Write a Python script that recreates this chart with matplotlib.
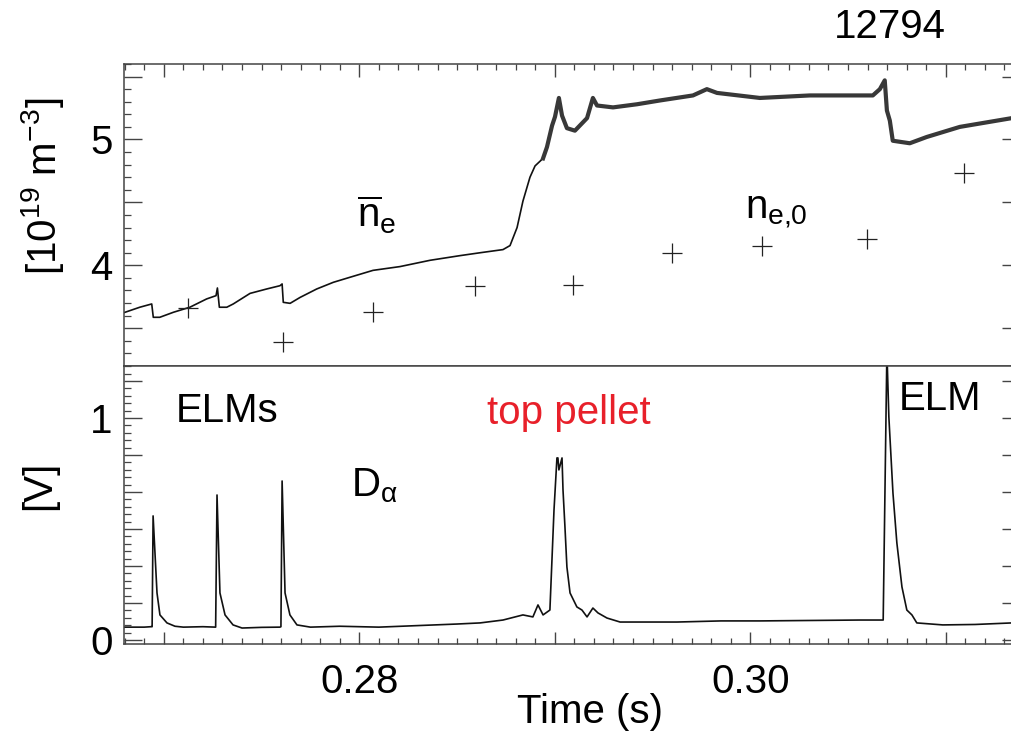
import matplotlib
matplotlib.use("Agg")
import numpy as np
import matplotlib.pyplot as plt
from matplotlib.ticker import MultipleLocator, FuncFormatter, NullLocator

# ---- data (shot 12794) ----
# line averaged density  [1e19 m^-3]
ne_t = [0.26796, 0.26877, 0.26938, 0.26946, 0.26979, 0.27049, 0.27133, 0.27219,
        0.27267, 0.27274, 0.27284, 0.27322, 0.27355, 0.27441, 0.27526, 0.27594,
        0.27605, 0.27611, 0.27646, 0.27697, 0.27782, 0.27867, 0.27952, 0.28070,
        0.28208, 0.28362, 0.28515, 0.28618, 0.28735, 0.28771, 0.28807, 0.28837,
        0.28873, 0.28899, 0.28940, 0.28960, 0.28986, 0.29001, 0.29021, 0.29037,
        0.29062, 0.29103, 0.29165, 0.29195, 0.29216, 0.29298, 0.29421, 0.29538,
        0.29707, 0.29778, 0.29830, 0.30049, 0.30305, 0.30627, 0.30663, 0.30688,
        0.30699, 0.30714, 0.30729, 0.30816, 0.30903, 0.31072, 0.31339]
ne_bar = [3.624, 3.667, 3.693, 3.587, 3.587, 3.627, 3.667, 3.733,
          3.759, 3.820, 3.667, 3.667, 3.693, 3.777, 3.812, 3.838,
          3.852, 3.706, 3.698, 3.745, 3.812, 3.865, 3.905, 3.960,
          3.990, 4.040, 4.077, 4.100, 4.125, 4.157, 4.300, 4.510,
          4.700, 4.790, 4.850, 4.940, 5.110, 5.180, 5.330, 5.190,
          5.090, 5.070, 5.170, 5.330, 5.270, 5.255, 5.280, 5.310,
          5.350, 5.400, 5.370, 5.330, 5.350, 5.350, 5.400, 5.470,
          5.230, 5.150, 4.990, 4.970, 5.020, 5.100, 5.170]

# central density from Thomson scattering
ne0_t = [0.27124, 0.27610, 0.28070, 0.28592, 0.29093, 0.29599, 0.30060, 0.30597, 0.31093]
ne0 = [3.661, 3.393, 3.632, 3.838, 3.846, 4.099, 4.151, 4.210, 4.735]

# D-alpha signal [V]
da_t = [0.26796, 0.26900, 0.26935, 0.26940, 0.26945, 0.26965, 0.26980, 0.27016,
        0.27057, 0.27100, 0.27200, 0.27265, 0.27272, 0.27287, 0.27313, 0.27354,
        0.27400, 0.27500, 0.27594, 0.27599, 0.27605, 0.27620, 0.27645, 0.27681,
        0.27750, 0.27900, 0.28100, 0.28300, 0.28500, 0.28618, 0.28735, 0.28837,
        0.28888, 0.28914, 0.28940, 0.28975, 0.28996, 0.29011, 0.29016, 0.29021,
        0.29037, 0.29042, 0.29052, 0.29062, 0.29078, 0.29113, 0.29139, 0.29165,
        0.29195, 0.29221, 0.29267, 0.29334, 0.29472, 0.29625, 0.29850, 0.30050,
        0.30560, 0.30680, 0.30699, 0.30709, 0.30730, 0.30750, 0.30776, 0.30801,
        0.30827, 0.30852, 0.30985, 0.31150, 0.31339]
d_alpha = [0.058, 0.058, 0.060, 0.060, 0.559, 0.212, 0.113, 0.077,
           0.062, 0.058, 0.060, 0.058, 0.653, 0.212, 0.113, 0.068,
           0.054, 0.057, 0.058, 0.060, 0.716, 0.212, 0.113, 0.068,
           0.058, 0.062, 0.058, 0.065, 0.072, 0.077, 0.090, 0.113,
           0.104, 0.158, 0.113, 0.135, 0.586, 0.820, 0.820, 0.766,
           0.820, 0.676, 0.509, 0.329, 0.212, 0.149, 0.135, 0.104,
           0.144, 0.122, 0.099, 0.081, 0.081, 0.081, 0.086, 0.086,
           0.090, 0.090, 1.300, 1.005, 0.662, 0.437, 0.239, 0.135,
           0.113, 0.077, 0.068, 0.070, 0.077]

t_pellet = 0.2894   # after the pellet the density trace carries a fast ripple

plt.rcParams['font.family'] = ['Liberation Sans', 'DejaVu Sans']
plt.rcParams['mathtext.fontset'] = 'custom'
plt.rcParams['mathtext.rm'] = 'Liberation Sans'
plt.rcParams['mathtext.it'] = 'Liberation Sans'
plt.rcParams['mathtext.sf'] = 'Liberation Sans'
plt.rcParams['mathtext.bf'] = 'Liberation Sans:bold'

FS = 29
frame = '#444444'

fig = plt.figure(figsize=(10.12, 7.32), dpi=100)
ax1 = fig.add_axes([0.1225, 0.5, 0.8775, 0.4126])
ax2 = fig.add_axes([0.1225, 0.1202, 0.8775, 0.3798], sharex=ax1)

# top panel: densities
t = np.array(ne_t)
v = np.array(ne_bar)
pre = t <= t_pellet
post = t >= t[pre][-1]
ax1.plot(t[pre], v[pre], color='#111111', lw=1.2)
# rippled part drawn as a broad band
ax1.plot(t[post], v[post], color='#383838', lw=3.0, solid_joinstyle='round')
ax1.plot(ne0_t, ne0, ls='none', marker='+', ms=14, mew=0.9, color='#222222')
ax1.set_ylim(3.2, 5.6)
ax1.text(0.285, 0.50, r'$\overline{n}_e$', transform=ax1.transAxes,
         fontsize=FS, ha='center', va='center')
ax1.text(0.735, 0.51, r'$n_{e{,}0}$', transform=ax1.transAxes,
         fontsize=FS, ha='center', va='center')

# bottom panel: D-alpha
ax2.plot(da_t, d_alpha, color='#111111', lw=1.2)
ax2.set_ylim(-0.018, 1.234)
ax2.text(0.116, 0.838, 'ELMs', transform=ax2.transAxes, fontsize=FS,
         ha='center', va='center')
ax2.text(0.501, 0.831, 'top pellet', transform=ax2.transAxes, fontsize=FS,
         ha='center', va='center', color='#e8202a')
ax2.text(0.2815, 0.568, r'$D_\alpha$', transform=ax2.transAxes, fontsize=FS,
         ha='center', va='center')
ax2.text(0.919, 0.881, 'ELM', transform=ax2.transAxes, fontsize=FS,
         ha='center', va='center')

ax2.set_xlim(0.26796, 0.31339)
ax2.xaxis.set_major_locator(MultipleLocator(0.01))
ax2.xaxis.set_minor_locator(MultipleLocator(0.001))
ax2.xaxis.set_major_formatter(FuncFormatter(
    lambda x, p: f'{x:.2f}' if round(x * 100) % 2 == 0 else ''))

ax1.yaxis.set_major_locator(MultipleLocator(0.5))
ax1.yaxis.set_minor_locator(MultipleLocator(0.1))
ax2.yaxis.set_major_locator(MultipleLocator(1 / 6))
ax2.yaxis.set_minor_locator(MultipleLocator(1 / 30))
int_only = FuncFormatter(lambda y, p: f'{round(y):d}' if abs(y - round(y)) < 1e-6 else '')
ax1.yaxis.set_major_formatter(int_only)
ax2.yaxis.set_major_formatter(int_only)

for ax in (ax1, ax2):
    for s in ax.spines.values():
        s.set_color(frame)
        s.set_linewidth(1.1)
    ax.tick_params(axis='both', which='both', direction='in', color=frame,
                   labelsize=FS, right=False)
    ax.tick_params(axis='y', which='major', length=13, width=1.0, pad=8)
    ax.tick_params(axis='y', which='minor', length=5, width=0.9)
    ax.tick_params(axis='x', which='major', length=9, width=1.0, pad=14)
    ax.tick_params(axis='x', which='minor', length=4.3, width=0.9)
    # right side carries only short major ticks
    sec = ax.secondary_yaxis('right')
    sec.yaxis.set_major_locator(ax.yaxis.get_major_locator())
    sec.yaxis.set_minor_locator(NullLocator())
    sec.tick_params(direction='in', length=7, width=1.0, color=frame, labelright=False)
    sec.spines['right'].set_color(frame)

ax1.tick_params(axis='x', which='both', top=True, bottom=False,
                labelbottom=False, labeltop=False)
ax2.tick_params(axis='x', which='both', top=False, bottom=True)

ax1.set_ylabel(r'[10$^{19}$ m$^{-3}$]', fontsize=FS, va='center')
ax1.yaxis.set_label_coords(-0.0923, 0.596)
ax2.set_ylabel('[V]', fontsize=FS, va='center')
ax2.yaxis.set_label_coords(-0.0957, 0.572)
ax2.set_xlabel('Time (s)', fontsize=FS, va='center')
ax2.xaxis.set_label_coords(0.525, -0.245)

fig.text(0.8794, 0.963, '12794', fontsize=FS, ha='center', va='center')

fig.savefig('out.png', dpi=100)
